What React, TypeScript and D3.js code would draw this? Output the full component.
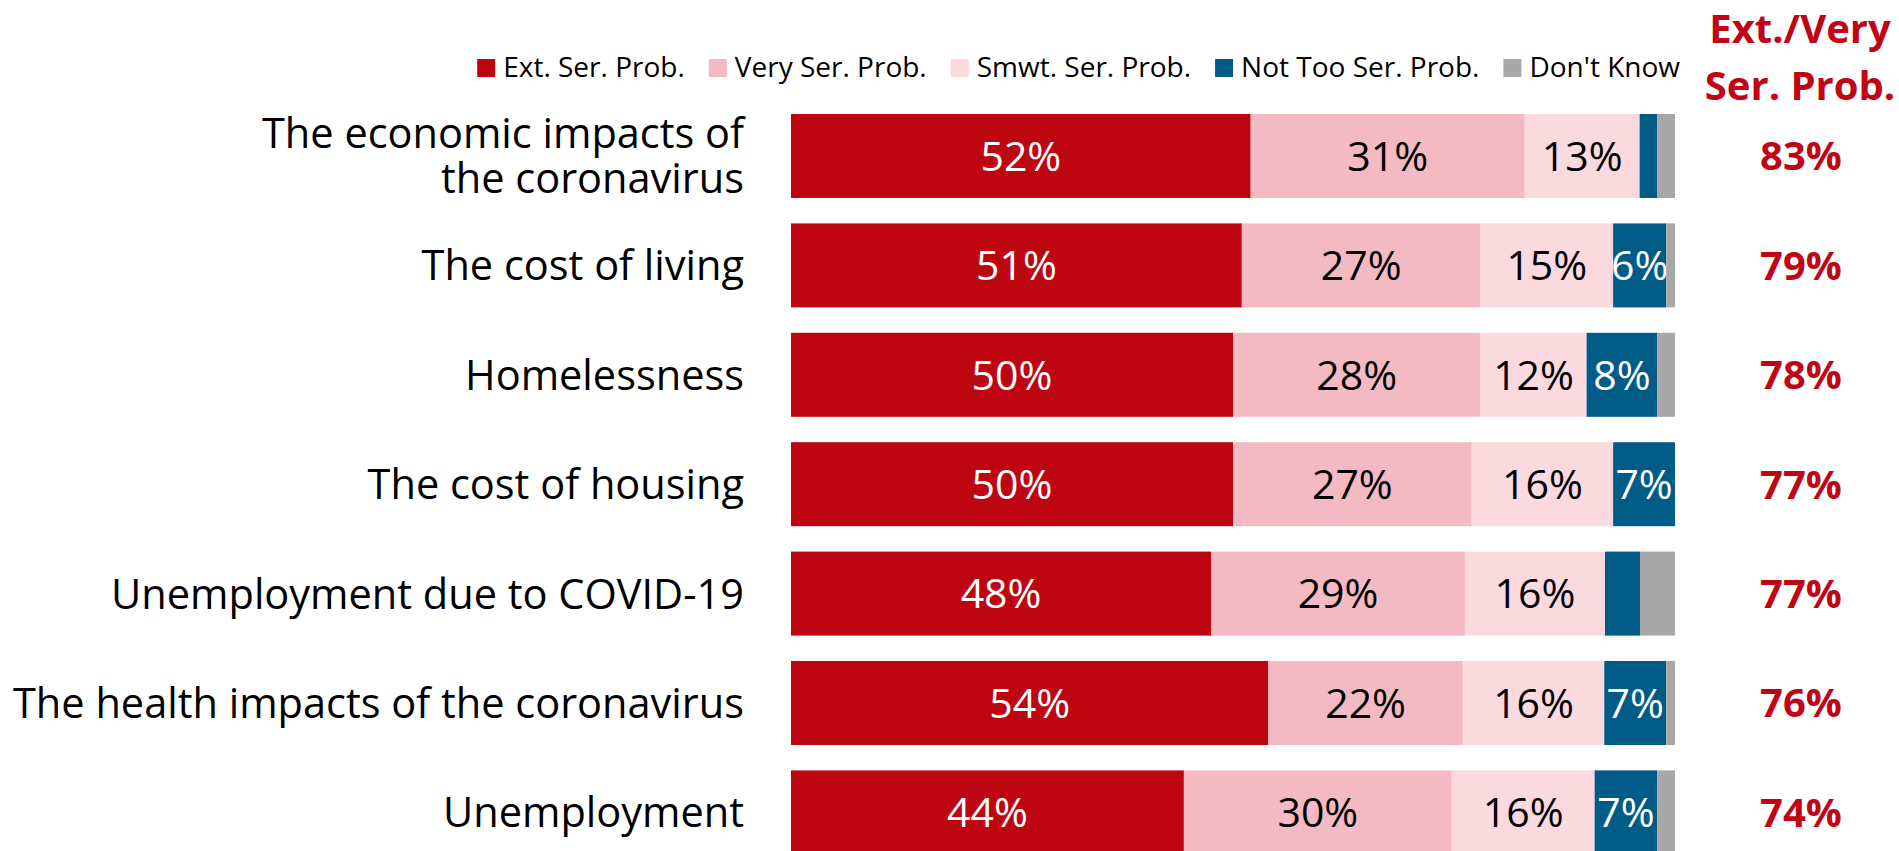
import * as d3 from 'd3';
import { useEffect, useRef } from 'react';

const categories = [
  'The economic impacts of|the coronavirus',
  'The cost of living',
  'Homelessness',
  'The cost of housing',
  'Unemployment due to COVID-19',
  'The health impacts of the coronavirus',
  'Unemployment',
];
const extSer = [52, 51, 50, 50, 48, 54, 44];
const verySer = [31, 27, 28, 27, 29, 22, 30];
const smwtSer = [13, 15, 12, 16, 16, 16, 16];
const notTooSer = [2, 6, 8, 7, 4, 7, 7];
const dontKnow = [2, 1, 2, 0, 4, 1, 2];
const extVeryTotal = [83, 79, 78, 77, 77, 76, 74];

const seriesNames = ['Ext. Ser. Prob.', 'Very Ser. Prob.', 'Smwt. Ser. Prob.', 'Not Too Ser. Prob.', "Don't Know"];
const seriesColors = ['#BE0613', '#F4BAC3', '#FAD9DF', '#005C87', '#A8A8A8'];
const labelColors = ['#ffffff', '#000000', '#000000', '#ffffff', '#000000'];
const headerLines = ['Ext./Very', 'Ser. Prob.'];

const WIDTH = 1899;
const HEIGHT = 851;
const FONT = "'Open Sans', 'Noto Sans', sans-serif";
const RED = '#C00515';

export default function App() {
  const svgRef = useRef<SVGSVGElement>(null);

  useEffect(() => {
    if (!svgRef.current) return;
    const svg = d3.select(svgRef.current);
    svg.selectAll('*').remove();

    const keys = seriesNames.map((_, i) => String(i));
    const rows = categories.map((c, i) => ({
      category: c,
      '0': extSer[i],
      '1': verySer[i],
      '2': smwtSer[i],
      '3': notTooSer[i],
      '4': dontKnow[i],
    }));

    // 100% stacked, each row normalised to its own total
    const stacked = d3
      .stack<any>()
      .keys(keys)
      .offset(d3.stackOffsetExpand)(rows);

    const x = d3.scaleLinear().domain([0, 1]).range([791, 1675]);
    const y = d3
      .scaleBand()
      .domain(categories)
      .range([101.3, 101.3 + 7 * 109.4])
      .paddingInner(0.232)
      .paddingOuter(0.116);

    // Bars
    stacked.forEach((layer, si) => {
      const g = svg.append('g');
      g.selectAll('rect')
        .data(layer)
        .enter()
        .append('rect')
        .attr('x', (d) => x(d[0]))
        .attr('y', (d) => y(d.data.category) || 0)
        .attr('width', (d) => Math.max(0, x(d[1]) - x(d[0])))
        .attr('height', y.bandwidth())
        .attr('fill', seriesColors[si]);

      if (si < 4) {
        g.selectAll('text')
          .data(layer.filter((d) => d.data[String(si)] >= 5))
          .enter()
          .append('text')
          .attr('x', (d) => (x(d[0]) + x(d[1])) / 2)
          .attr('y', (d) => (y(d.data.category) || 0) + y.bandwidth() / 2)
          .attr('dy', '0.36em')
          .attr('text-anchor', 'middle')
          .attr('fill', labelColors[si])
          .style('font-family', FONT)
          .style('font-size', '41px')
          .text((d) => `${d.data[String(si)]}%`);
      }
    });

    // Category labels (one text per line)
    const catFont = 41.5;
    const lineGap = 45;
    categories.forEach((c) => {
      const lines = c.split('|');
      const mid = (y(c) || 0) + y.bandwidth() / 2;
      lines.forEach((line, i) => {
        svg
          .append('text')
          .attr('text-anchor', 'end')
          .attr('fill', '#000')
          .style('font-family', FONT)
          .style('font-size', `${catFont}px`)
          .attr('x', 744)
          .attr('y', mid + (i - (lines.length - 1) / 2) * lineGap)
          .attr('dy', '0.36em')
          .text(line);
      });
    });

    // Right totals
    svg
      .append('g')
      .selectAll('text')
      .data(extVeryTotal)
      .enter()
      .append('text')
      .attr('x', 1801)
      .attr('y', (_, i) => (y(categories[i]) || 0) + y.bandwidth() / 2)
      .attr('dy', '0.36em')
      .attr('text-anchor', 'middle')
      .attr('fill', RED)
      .style('font-family', FONT)
      .style('font-weight', 700)
      .style('font-size', '40px')
      .text((d) => `${d}%`);

    // Header
    svg
      .append('g')
      .selectAll('text')
      .data(headerLines)
      .enter()
      .append('text')
      .attr('x', 1800)
      .attr('y', (_, i) => 43 + i * 57)
      .attr('text-anchor', 'middle')
      .attr('fill', RED)
      .style('font-family', FONT)
      .style('font-weight', 700)
      .style('font-size', '40px')
      .text((d) => d);

    // Legend, laid out left to right then right-aligned to the bars' end
    const legend = svg.append('g');
    let lx = 0;
    seriesNames.forEach((name, i) => {
      legend
        .append('rect')
        .attr('x', lx)
        .attr('y', 59)
        .attr('width', 18)
        .attr('height', 18)
        .attr('fill', seriesColors[i]);
      const t = legend
        .append('text')
        .attr('x', lx + 26)
        .attr('y', 77)
        .attr('fill', '#000')
        .style('font-family', FONT)
        .style('font-size', '28px')
        .text(name);
      const w = (t.node() as SVGTextElement).getComputedTextLength();
      lx += 26 + w + (i < seriesNames.length - 1 ? 24 : 0);
    });
    legend.attr('transform', `translate(${1680 - lx},0)`);
  }, []);

  return (
    <svg
      ref={svgRef}
      width={WIDTH}
      height={HEIGHT}
      style={{ position: 'absolute', left: 0, top: 0, background: '#fff' }}
    />
  );
}
